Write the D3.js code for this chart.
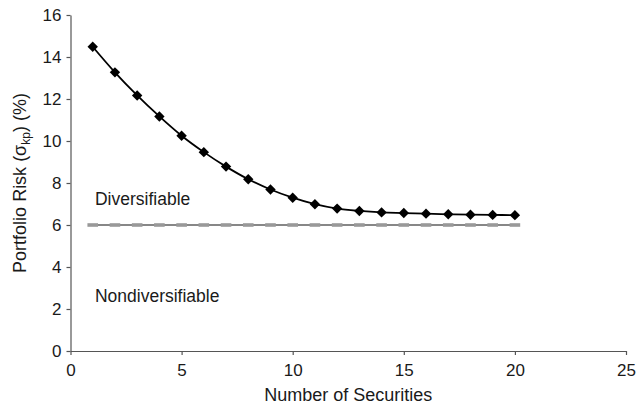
<!DOCTYPE html>
<html>
<head>
<meta charset="utf-8">
<script src="https://cdn.jsdelivr.net/npm/d3@7"></script>
<style>
  html, body { margin: 0; padding: 0; background: #fff; }
  svg { display: block; font-family: "Liberation Sans", Arial, Helvetica, sans-serif; }
</style>
</head>
<body>
<svg id="chart" width="636" height="406"></svg>
<script>
const securities = [1,2,3,4,5,6,7,8,9,10,11,12,13,14,15,16,17,18,19,20];
const portfolioRisk = [14.49,13.27,12.17,11.17,10.25,9.47,8.78,8.18,7.69,7.30,6.99,6.78,6.67,6.60,6.57,6.54,6.51,6.49,6.48,6.47];
const nondiversifiableRisk = [6,6,6,6,6,6,6,6,6,6,6,6,6,6,6,6,6,6,6,6];
const xTicks = [0,5,10,15,20,25];
const yTicks = [0,2,4,6,8,10,12,14,16];
const xTitle = "Number of Securities";
const regionLabels = ["Diversifiable", "Nondiversifiable"];

const svg = d3.select("#chart");
const x = d3.scaleLinear().domain([0, 25]).range([70.5, 626]);
const y = d3.scaleLinear().domain([0, 16]).range([351, 15]);

// axes
const xAxis = svg.append("g")
  .attr("transform", `translate(0,${y(0)})`)
  .call(d3.axisBottom(x).tickValues(xTicks).tickSize(4).tickPadding(9).tickSizeOuter(0));
const yAxis = svg.append("g")
  .attr("transform", `translate(${x(0)},0)`)
  .call(d3.axisLeft(y).tickValues(yTicks).tickSize(4).tickPadding(5).tickSizeOuter(0));
[xAxis, yAxis].forEach(g => {
  g.selectAll("path.domain").attr("stroke", "#555").attr("stroke-width", 1.2);
  g.selectAll(".tick line").attr("stroke", "#555").attr("stroke-width", 1.2);
  g.selectAll(".tick text").attr("fill", "#1a1a1a")
    .style("font-size", "17px").style("font-family", "'Liberation Sans', Arial, sans-serif");
});

// horizontal nondiversifiable line
const pts6 = securities.map((s, i) => [s, nondiversifiableRisk[i]]);
svg.append("path")
  .attr("d", d3.line().x(d => x(d[0])).y(d => y(d[1]))(pts6))
  .attr("fill", "none").attr("stroke", "#111").attr("stroke-width", 1.2);
svg.append("g").selectAll("rect").data(pts6).join("rect")
  .attr("x", d => x(d[0]) - 5.3).attr("y", d => y(d[1]) - 1.8)
  .attr("width", 10.6).attr("height", 3.6)
  .attr("fill", "#999");

// curve
const pts = securities.map((s, i) => [s, portfolioRisk[i]]);
svg.append("path")
  .attr("d", d3.line().x(d => x(d[0])).y(d => y(d[1])).curve(d3.curveCatmullRom.alpha(0.5))(pts))
  .attr("fill", "none").attr("stroke", "#000").attr("stroke-width", 1.8);
svg.append("g").selectAll("path").data(pts).join("path")
  .attr("d", d3.symbol().type(d3.symbolSquare).size(54))
  .attr("transform", d => `translate(${x(d[0])},${y(d[1])}) rotate(45)`)
  .attr("fill", "#000");

// region labels
svg.append("text").attr("x", x(1.1)).attr("y", y(7.0) + 1)
  .attr("fill", "#1a1a1a").style("font-size", "17.5px").text(regionLabels[0]);
svg.append("text").attr("x", x(1.1)).attr("y", y(2.4) + 1)
  .attr("fill", "#1a1a1a").style("font-size", "17.5px").text(regionLabels[1]);

// x title
svg.append("text").attr("x", (x(0) + x(25)) / 2).attr("y", 401)
  .attr("text-anchor", "middle").attr("fill", "#1a1a1a").style("font-size", "18px").text(xTitle);

// y title
const yt = svg.append("text")
  .attr("transform", `translate(26,${(y(0) + y(16)) / 2}) rotate(-90)`)
  .attr("text-anchor", "middle").attr("fill", "#1a1a1a").style("font-size", "18px");
yt.append("tspan").text("Portfolio Risk (σ");
yt.append("tspan").attr("dy", 4).style("font-size", "12px").text("kp");
yt.append("tspan").attr("dy", -4).text(") (%)");
</script>
</body>
</html>
